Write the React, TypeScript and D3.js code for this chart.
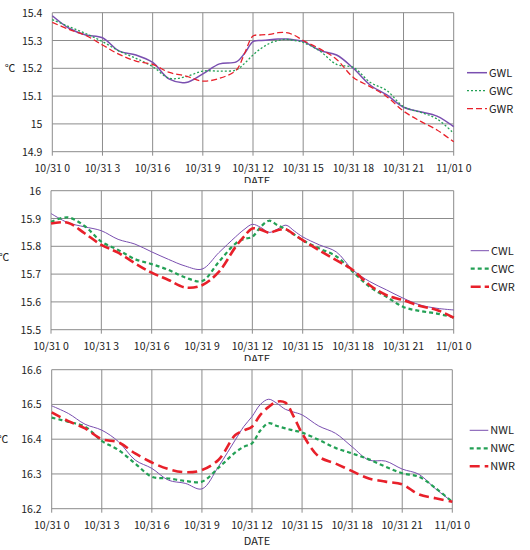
import React from "react";
import * as d3 from "d3";

const HOURS = [0,1,2,3,4,5,6,7,8,9,10,11,11.5,12,12.5,13,13.5,14,14.5,15,16,17,18,19,20,21,22,23,24];
const X_TICKS = [0,3,6,9,12,15,18,21,24];
const X_TICK_LABELS = ["10/31 0","10/31 3","10/31 6","10/31 9","10/31 12","10/31 15","10/31 18","10/31 21","11/01 0"];

const GWL = [15.389,15.344,15.320,15.310,15.262,15.248,15.221,15.161,15.149,15.180,15.216,15.223,15.254,15.296,15.300,15.303,15.305,15.305,15.302,15.297,15.264,15.248,15.200,15.140,15.104,15.060,15.044,15.028,14.990];
const GWC = [15.375,15.350,15.325,15.296,15.262,15.236,15.206,15.164,15.170,15.190,15.190,15.194,15.218,15.248,15.272,15.290,15.300,15.304,15.300,15.293,15.262,15.214,15.203,15.150,15.120,15.062,15.042,15.018,14.966];
const GWR = [15.365,15.340,15.318,15.284,15.250,15.226,15.214,15.185,15.172,15.154,15.164,15.194,15.254,15.316,15.320,15.322,15.328,15.328,15.318,15.300,15.270,15.232,15.167,15.134,15.098,15.046,15.010,14.978,14.936];

const CWL = [15.918,15.885,15.870,15.856,15.825,15.808,15.780,15.753,15.729,15.718,15.777,15.834,15.860,15.879,15.868,15.850,15.862,15.876,15.855,15.834,15.805,15.780,15.714,15.673,15.643,15.613,15.589,15.577,15.571];
const CWC = [15.888,15.904,15.873,15.817,15.787,15.754,15.736,15.715,15.688,15.675,15.744,15.810,15.826,15.834,15.870,15.892,15.876,15.861,15.842,15.822,15.792,15.764,15.708,15.654,15.618,15.582,15.567,15.558,15.544];
const CWR = [15.882,15.885,15.847,15.805,15.777,15.739,15.705,15.679,15.652,15.660,15.708,15.798,15.835,15.864,15.860,15.849,15.858,15.861,15.842,15.822,15.785,15.750,15.714,15.660,15.624,15.606,15.585,15.571,15.543];

const NWL = [16.496,16.474,16.443,16.426,16.393,16.340,16.316,16.282,16.273,16.257,16.322,16.398,16.436,16.465,16.500,16.515,16.503,16.486,16.478,16.470,16.438,16.417,16.378,16.340,16.337,16.314,16.299,16.257,16.220];
const NWC = [16.462,16.450,16.436,16.395,16.369,16.330,16.292,16.287,16.280,16.278,16.318,16.362,16.378,16.388,16.425,16.446,16.438,16.431,16.425,16.419,16.398,16.375,16.359,16.342,16.321,16.302,16.292,16.259,16.220];
const NWR = [16.477,16.452,16.431,16.400,16.391,16.359,16.333,16.314,16.305,16.311,16.341,16.412,16.425,16.436,16.470,16.493,16.508,16.505,16.465,16.417,16.350,16.330,16.308,16.287,16.278,16.270,16.241,16.230,16.220];

const TOP_TICKS = [14.9,15.0,15.1,15.2,15.3,15.4];
const MID_TICKS = [15.5,15.6,15.7,15.8,15.9,16.0];
const BOT_TICKS = [16.2,16.3,16.4,16.5,16.6];

const PURPLE = "#7a4fb0";
const GREEN = "#23a055";
const RED = "#e8202a";
const GRID = "#8c8c8c";
const FONT = "'Noto Sans CJK KR', 'Noto Sans', sans-serif";

type SeriesDef = { name: string; values: number[]; color: string; width: number; dash?: string };

type PanelDef = {
  top: number; bottom: number;
  x0: number; x1: number; yTop: number; yBot: number;
  domain: [number, number]; ticks: number[];
  labelY: number; dateY: number; unitX: number; unitY: number;
  legendX0: number; legendX1: number; legendY: number[];
  series: SeriesDef[];
};

const panels: PanelDef[] = [
  {
    top: 0, bottom: 183, x0: 52.3, x1: 453.7, yTop: 12.7, yBot: 151.7,
    domain: [14.9, 15.4], ticks: TOP_TICKS, labelY: 172, dateY: 185, unitX: 10, unitY: 72,
    legendX0: 467, legendX1: 487, legendY: [72.7, 90.7, 108.7],
    series: [
      { name: "GWL", values: GWL, color: PURPLE, width: 1.5 },
      { name: "GWC", values: GWC, color: GREEN, width: 1.3, dash: "2,2" },
      { name: "GWR", values: GWR, color: RED, width: 1.3, dash: "6,3" },
    ],
  },
  {
    top: 183, bottom: 361, x0: 51, x1: 453.7, yTop: 190.7, yBot: 329.7,
    domain: [15.5, 16.0], ticks: MID_TICKS, labelY: 350, dateY: 363, unitX: 4, unitY: 261,
    legendX0: 470.7, legendX1: 489, legendY: [250.7, 268.7, 286.7],
    series: [
      { name: "CWL", values: CWL, color: PURPLE, width: 1 },
      { name: "CWC", values: CWC, color: GREEN, width: 2.2, dash: "4,3" },
      { name: "CWR", values: CWR, color: RED, width: 2.6, dash: "10,4" },
    ],
  },
  {
    top: 361, bottom: 550, x0: 51.7, x1: 452.3, yTop: 369.7, yBot: 508.7,
    domain: [16.2, 16.6], ticks: BOT_TICKS, labelY: 529, dateY: 545, unitX: 3, unitY: 443,
    legendX0: 469.7, legendX1: 488.3, legendY: [430.3, 448.3, 466.3],
    series: [
      { name: "NWL", values: NWL, color: PURPLE, width: 1 },
      { name: "NWC", values: NWC, color: GREEN, width: 2.2, dash: "4,3" },
      { name: "NWR", values: NWR, color: RED, width: 2.6, dash: "10,5" },
    ],
  },
];

function fmt(v: number) {
  return String(+v.toFixed(1));
}

function Panel({ p }: { p: PanelDef }) {
  const x = d3.scaleLinear().domain([0, 24]).range([p.x0, p.x1]);
  const y = d3.scaleLinear().domain(p.domain).range([p.yBot, p.yTop]);
  const line = d3
    .line<number>()
    .x((_, i) => x(HOURS[i]))
    .y((v) => y(v))
    .curve(d3.curveCatmullRom.alpha(0.5));
  return (
    <g>
      <rect x={0} y={p.top} width={530} height={p.bottom - p.top} fill="#fff" />
      {p.ticks.map((t) => (
        <line key={"h" + t} x1={p.x0} x2={p.x1} y1={y(t)} y2={y(t)} stroke={GRID} strokeWidth={1} />
      ))}
      {X_TICKS.map((t) => (
        <line key={"v" + t} x1={x(t)} x2={x(t)} y1={p.yTop} y2={p.yBot + 4} stroke={GRID} strokeWidth={1} />
      ))}
      {p.ticks.map((t) => (
        <text key={"yl" + t} x={p.x0 - 10} y={y(t) + 4} textAnchor="end" fontSize={10.5} fill="#222">
          {fmt(t)}
        </text>
      ))}
      {X_TICKS.map((t, i) => (
        <text key={"xl" + t} x={x(t)} y={p.labelY} textAnchor="middle" fontSize={10.5} fill="#222">
          {X_TICK_LABELS[i]}
        </text>
      ))}
      <text x={p.unitX} y={p.unitY} textAnchor="middle" fontSize={10.5} fill="#222">℃</text>
      {p.series.map((s) => (
        <path
          key={s.name}
          d={line(s.values) || ""}
          fill="none"
          stroke={s.color}
          strokeWidth={s.width}
          strokeDasharray={s.dash}
        />
      ))}
      {p.series.map((s, i) => (
        <g key={"lg" + s.name}>
          <line
            x1={p.legendX0}
            x2={p.legendX1}
            y1={p.legendY[i]}
            y2={p.legendY[i]}
            stroke={s.color}
            strokeWidth={s.width}
            strokeDasharray={s.dash}
          />
          <text x={p.legendX1 + 2} y={p.legendY[i] + 4} fontSize={11} fill="#222">
            {s.name}
          </text>
        </g>
      ))}
      <text x={257} y={p.dateY} textAnchor="middle" fontSize={11} fill="#222">DATE</text>
    </g>
  );
}

export default function App() {
  return (
    <svg
      width={530}
      height={550}
      style={{ position: "absolute", left: 0, top: 0, fontFamily: FONT }}
    >
      <rect width={530} height={550} fill="#fff" />
      {panels.map((p, i) => (
        <Panel key={i} p={p} />
      ))}
    </svg>
  );
}
